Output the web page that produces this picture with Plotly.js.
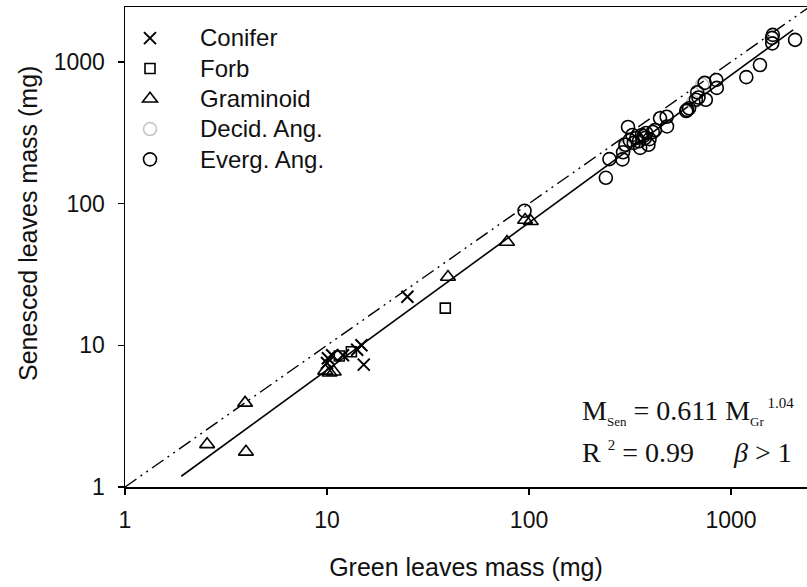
<!DOCTYPE html>
<html>
<head>
<meta charset="utf-8">
<script src="https://cdn.plot.ly/plotly-3.0.1.min.js"></script>
<style>html,body{margin:0;padding:0;background:#fff;}#chart{width:807px;height:587px;}</style>
</head>
<body>
<div id="chart"></div>
<script>
// ---- data ----
var coniferX = [10, 10.1, 10.6, 12, 14.1, 14.8, 15.2, 25];
var coniferY = [7.5, 8.1, 8.5, 8.5, 9.3, 10, 7.3, 22];

var forbX = [11.5, 13.2, 38.5];
var forbY = [8.4, 9.0, 18.3];

var gramX = [2.55, 3.93, 3.97, 9.8, 10.3, 10.8, 39.7, 77.8, 95.6, 102];
var gramY = [2.0, 3.92, 1.77, 6.6, 6.4, 6.5, 30.3, 53.6, 76.6, 75];

var decidX = [300, 650, 720];
var decidY = [250, 520, 690];

var evergX = [95, 240, 250, 290, 292, 300, 309, 315, 325, 330, 340, 350, 355, 362, 370, 375, 380, 390, 395, 410, 420, 445, 480, 482, 600, 606, 620, 670, 680, 690, 740, 750, 845, 850, 1190, 1390, 1596, 1610, 1600, 2075];
var evergY = [89, 152, 206, 205, 230, 260, 347, 280, 305, 268, 290, 275, 247, 305, 300, 290, 315, 260, 285, 320, 330, 400, 410, 350, 450, 458, 470, 540, 610, 560, 710, 540, 745, 655, 780, 950, 1475, 1550, 1350, 1430];

var seriesNames = ['Conifer', 'Forb', 'Graminoid', 'Decid. Ang.', 'Everg. Ang.'];

// fitted allometric line M_sen = a * M_gr^b
var fitA = 0.611, fitB = 1.04;
var fitX = [1.9, 2030];
var fitY = fitX.map(function (v) { return fitA * Math.pow(v, fitB); });

// 1:1 line
var oneX = [1, 2400];
var oneY = [1, 2400];

var tickVals = [1, 10, 100, 1000];
var tickText = ['1', '10', '100', '1000'];

function lg(s) { return '<span style="font-size:24px">' + s + '</span>'; }

// ---- traces ----
var lw = 1.6;
var traces = [
  {x: oneX, y: oneY, mode: 'lines', showlegend: false, hoverinfo: 'skip',
   line: {color: '#000', width: 1.4, dash: '14px,5px,2px,5px,2px,5px'}},
  {x: fitX, y: fitY, mode: 'lines', showlegend: false, hoverinfo: 'skip',
   line: {color: '#000', width: 1.6}},
  {x: coniferX, y: coniferY, mode: 'markers', name: lg(seriesNames[0]),
   marker: {symbol: 'x-thin-open', size: 12, color: '#000', line: {color: '#000', width: 2}}},
  {x: forbX, y: forbY, mode: 'markers', name: lg(seriesNames[1]),
   marker: {symbol: 'square-open', size: 10, color: '#000', line: {color: '#000', width: lw}}},
  {x: gramX, y: gramY, mode: 'markers', name: lg(seriesNames[2]),
   marker: {symbol: 'triangle-up-open', size: 13, color: '#000', line: {color: '#000', width: lw}}},
  {x: decidX, y: decidY, mode: 'markers', name: lg(seriesNames[3]),
   marker: {symbol: 'circle-open', size: 13, color: '#c4c4c4', line: {color: '#c4c4c4', width: lw}}},
  {x: evergX, y: evergY, mode: 'markers', name: lg(seriesNames[4]),
   marker: {symbol: 'circle-open', size: 13, color: '#000', line: {color: '#000', width: lw}}}
];

var sans = 'Arial, "Liberation Sans", sans-serif';
var serif = '"Liberation Serif", "Times New Roman", serif';
var axisFont = {family: sans, size: 23, color: '#111'};

var layout = {
  width: 807, height: 587,
  margin: {l: 125, r: 0, t: 7, b: 100, autoexpand: false},
  paper_bgcolor: '#fff', plot_bgcolor: '#fff',
  font: {family: sans, color: '#111'},
  showlegend: true,
  legend: {
    xref: 'container', yref: 'container',
    x: 100 / 807, y: 1 - 18 / 587, xanchor: 'left', yanchor: 'top',
    bgcolor: 'rgba(0,0,0,0)', borderwidth: 0,
    font: {family: sans, size: 21, color: '#111'},
    itemwidth: 90, traceorder: 'normal'
  },
  xaxis: {
    type: 'log', range: [0, 3.376],
    tickvals: tickVals, ticktext: tickText,
    ticks: 'outside', ticklen: 6, tickwidth: 1.5, tickcolor: '#000',
    showline: true, linecolor: '#000', linewidth: 1.5, mirror: true,
    showgrid: false, zeroline: false, automargin: false,
    tickfont: axisFont, ticklabelstandoff: 6,
    title: {text: 'Green leaves mass (mg)', font: {family: sans, size: 25, color: '#111'}, standoff: 26}
  },
  yaxis: {
    type: 'log', range: [0, 3.387],
    tickvals: tickVals, ticktext: tickText,
    ticks: 'outside', ticklen: 6, tickwidth: 1.5, tickcolor: '#000',
    showline: true, linecolor: '#000', linewidth: 1.5, mirror: false,
    showgrid: false, zeroline: false, automargin: false,
    tickfont: axisFont, ticklabelstandoff: 8
  },
  annotations: [
    {xref: 'paper', yref: 'paper', x: (28 - 125) / 682, y: (487 - 224) / 480,
     text: 'Senesced leaves mass (mg)', textangle: -90, showarrow: false,
     xanchor: 'center', yanchor: 'middle',
     font: {family: sans, size: 25, color: '#111'}},
    {xref: 'paper', yref: 'paper', x: (580 - 125) / 682, y: (487 - 412) / 480,
     xanchor: 'left', yanchor: 'middle', showarrow: false,
     text: 'M<sub><span style="font-size:13px">Sen</span></sub> = 0.611 M<sub><span style="font-size:13px">Gr</span></sub><sup><span style="font-size:15px"> 1.04</span></sup>',
     font: {family: serif, size: 28, color: '#111'}},
    {xref: 'paper', yref: 'paper', x: (580 - 125) / 682, y: (487 - 452) / 480,
     xanchor: 'left', yanchor: 'middle', showarrow: false,
     text: 'R <sup><span style="font-size:15px">2</span></sup> = 0.99',
     font: {family: serif, size: 28, color: '#111'}},
    {xref: 'paper', yref: 'paper', x: (794 - 125) / 682, y: (487 - 452) / 480,
     xanchor: 'right', yanchor: 'middle', showarrow: false,
     text: '<i>β</i> > 1',
     font: {family: serif, size: 28, color: '#111'}}
  ]
};

Plotly.newPlot('chart', traces, layout, {staticPlot: true, displayModeBar: false});
</script>
</body>
</html>
